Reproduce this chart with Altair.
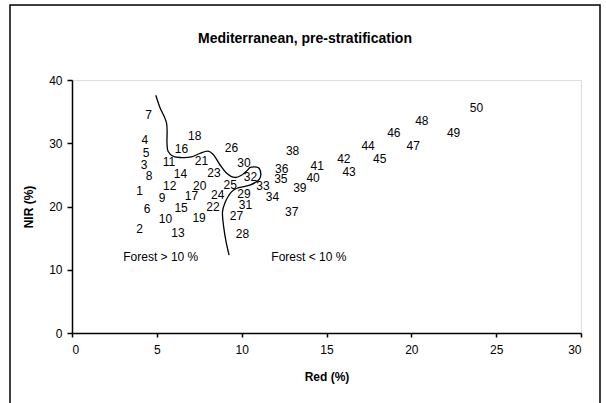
import altair as alt
import pandas as pd

# Labelled points (Red %, NIR %)
labels = list(range(1, 51))
red = [3.99, 3.99, 4.25, 4.30, 4.36, 4.42, 4.52, 4.54, 5.31, 5.51,
       5.72, 5.76, 6.25, 6.39, 6.43, 6.45, 7.04, 7.23, 7.49, 7.53,
       7.63, 8.31, 8.37, 8.59, 9.32, 9.40, 9.69, 10.05, 10.14, 10.14,
       10.22, 10.52, 11.26, 11.82, 12.31, 12.36, 12.95, 13.00, 13.43, 14.21,
       14.45, 16.02, 16.33, 17.45, 18.14, 18.97, 20.11, 20.62, 22.49, 23.84]
nir = [22.47, 16.42, 26.58, 30.47, 28.53, 19.63, 34.42, 24.84, 21.36, 18.00,
       27.11, 23.21, 15.79, 25.06, 19.78, 29.05, 21.63, 31.10, 18.20, 23.32,
       27.27, 19.94, 25.26, 21.79, 23.37, 29.21, 18.43, 15.68, 22.00, 26.84,
       20.16, 24.74, 23.21, 21.52, 24.36, 25.85, 19.15, 28.79, 22.85, 24.52,
       26.37, 27.47, 25.47, 29.58, 27.47, 31.69, 29.58, 33.52, 31.69, 35.53]

# Boundary curve
curve_x = [4.94, 5.17, 5.57, 5.60, 5.66, 5.96, 6.45, 7.04, 7.53, 8.02,
           8.31, 8.71, 9.10, 9.59, 9.99, 10.38, 10.48, 10.97, 11.13, 11.03,
           10.48, 9.69, 9.40, 9.00, 8.87, 8.94, 9.10, 9.26]
curve_y = [37.58, 35.73, 33.21, 29.95, 28.74, 27.95, 27.74, 27.84, 28.38, 28.74,
           28.26, 26.64, 25.31, 24.59, 24.95, 25.85, 26.16, 26.16, 25.22, 24.27,
           23.37, 22.85, 22.31, 20.48, 19.15, 16.78, 14.16, 12.32]

# Annotations
ann_text = ["Forest > 10 %", "Forest < 10 %"]
ann_x = [5.23, 13.96]
ann_y = [12.05, 12.05]

FONT = "Liberation Sans"
W, H = 509, 253

pts = pd.DataFrame({"label": [str(v) for v in labels], "red": red, "nir": nir})
crv = pd.DataFrame({"i": list(range(len(curve_x))), "x": curve_x, "y": curve_y})
ann = pd.DataFrame({"t": ann_text, "x": ann_x, "y": ann_y})

xs = alt.Scale(domain=[0, 30], nice=False, zero=True)
ys = alt.Scale(domain=[0, 40], nice=False, zero=True)

xaxis = alt.Axis(values=[0, 5, 10, 15, 20, 25, 30], title="Red (%)", grid=False,
                 domainColor="black", domainWidth=1.5, tickColor="black", tickWidth=1.5,
                 tickSize=4, labelFont=FONT, labelFontSize=12, labelColor="black",
                 labelPadding=7, titleFont=FONT, titleFontSize=12, titleFontWeight="bold",
                 titleColor="black", titleX=W / 2, titleY=43, titleBaseline="middle")
yaxis = alt.Axis(values=[0, 10, 20, 30, 40], title="NIR (%)", grid=False,
                 domainColor="black", domainWidth=1.5, tickColor="black", tickWidth=1.5,
                 tickSize=5, labelFont=FONT, labelFontSize=12, labelColor="black",
                 labelPadding=5, titleFont=FONT, titleFontSize=12, titleFontWeight="bold",
                 titleColor="black", titleX=-44, titleY=H / 2, titleBaseline="middle")

text = alt.Chart(pts).mark_text(font=FONT, fontSize=12, color="black",
                                align="center", baseline="middle").encode(
    x=alt.X("red:Q", scale=xs, axis=xaxis),
    y=alt.Y("nir:Q", scale=ys, axis=yaxis),
    text="label:N",
)

line = alt.Chart(crv).mark_line(color="black", strokeWidth=1.3,
                                interpolate="catmull-rom").encode(
    x=alt.X("x:Q", scale=xs),
    y=alt.Y("y:Q", scale=ys),
    order="i:Q",
)

annot = alt.Chart(ann).mark_text(font=FONT, fontSize=12, color="black",
                                 align="center", baseline="middle").encode(
    x=alt.X("x:Q", scale=xs),
    y=alt.Y("y:Q", scale=ys),
    text="t:N",
)

frame = alt.Chart(pd.DataFrame({"a": [0]})).mark_rect(
    fill=None, stroke="black", strokeWidth=1.5, clip=False).encode(
    x=alt.value(-62), x2=alt.value(528), y=alt.value(-75), y2=alt.value(345)
)

chart = alt.layer(frame, line, text, annot).properties(
    width=W, height=H,
    title=alt.TitleParams("Mediterranean, pre-stratification", font=FONT, fontSize=14,
                          fontWeight="bold", color="black", anchor="middle",
                          frame="bounds", offset=-49, baseline="middle"),
    autosize=alt.AutoSizeParams(type="none"),
    padding={"left": 72, "top": 80, "right": 25, "bottom": 70},
).configure_view(stroke=None).configure(background="white")

chart.save("out.html", embed_options={"renderer": "svg", "actions": False})
